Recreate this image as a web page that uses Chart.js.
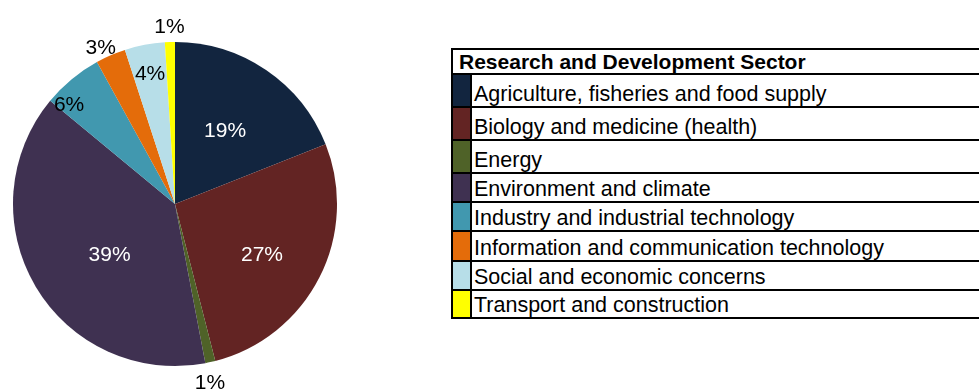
<!DOCTYPE html>
<html>
<head>
<meta charset="utf-8">
<script src="https://cdn.jsdelivr.net/npm/chart.js@4/dist/chart.umd.min.js"></script>
<style>
  html, body { margin: 0; padding: 0; background: #fff; overflow: hidden; }
  body { width: 979px; height: 392px; position: relative; font-family: "Liberation Sans", Arial, sans-serif; }
  #pieBox { position: absolute; left: 0; top: 0; width: 350px; height: 392px; }
  #legend { position: absolute; left: 451px; top: 48px; width: 620px; border: 2px solid #000; box-sizing: content-box; }
  #legend .hdr { height: 23px; font-weight: bold; font-size: 21px; padding-left: 6px; display: flex; align-items: center; color: #000; }
  #legend .row { display: flex; border-top: 2px solid #000; box-sizing: border-box; }
  #legend .sw { width: 17px; border-right: 2px solid #000; flex: none; }
  #legend .txt { font-size: 21.5px; line-height: 1.15; padding-left: 2px; display: flex; align-items: flex-end; padding-bottom: 0; margin-bottom: -1px; color: #000; white-space: nowrap; }
</style>
</head>
<body>
<div id="pieBox"><canvas id="pie"></canvas></div>
<div id="legend"></div>
<script>
// Share of funding by research and development sector (%)
const sectors = [
  "Agriculture, fisheries and food supply",
  "Biology and medicine (health)",
  "Energy",
  "Environment and climate",
  "Industry and industrial technology",
  "Information and communication technology",
  "Social and economic concerns",
  "Transport and construction"
];
const shares = [19, 27, 1, 39, 6, 3, 4, 1];
const legendTitle = "Research and Development Sector";

// Slice fills, in sector order
const sliceColors = ["#12253F", "#632423", "#4F6228", "#3F3151", "#4198AF", "#E46C0A", "#B7DEE8", "#FFFF00"];
// Percent label colour, distance from the centre (fraction of the radius)
// and angular nudge from the slice bisector (degrees)
const labelColors = ["#fff", "#fff", "#000", "#fff", "#000", "#000", "#000", "#000"];
const labelRadius = [0.55, 0.62, 1.12, 0.51, 0.9, 1.07, 0.82, 1.10];
const labelNudge = [0, 3, 1.5, -7, -7, -2, 0, 0];
// Legend row heights
const rowHeights = [33, 33, 33, 29, 29, 30, 29, 28];

const pctLabels = {
  id: "pctLabels",
  afterDatasetsDraw(chart) {
    const ctx = chart.ctx;
    const meta = chart.getDatasetMeta(0);
    ctx.save();
    ctx.font = '21px "Liberation Sans", Arial, sans-serif';
    ctx.textAlign = "center";
    ctx.textBaseline = "middle";
    meta.data.forEach((arc, i) => {
      const p = arc.getProps(["x", "y", "startAngle", "endAngle", "outerRadius"], true);
      const mid = (p.startAngle + p.endAngle) / 2 + labelNudge[i] * Math.PI / 180;
      const r = p.outerRadius * labelRadius[i];
      ctx.fillStyle = labelColors[i];
      ctx.fillText(shares[i] + "%", p.x + Math.cos(mid) * r, p.y + Math.sin(mid) * r + 1);
    });
    ctx.restore();
  }
};

new Chart(document.getElementById("pie"), {
  type: "pie",
  data: {
    labels: sectors,
    datasets: [{
      data: shares,
      backgroundColor: sliceColors,
      borderWidth: 0
    }]
  },
  options: {
    responsive: true,
    maintainAspectRatio: false,
    animation: false,
    layout: { padding: { left: 12, right: 12, top: 42, bottom: 26 } },
    plugins: { legend: { display: false }, tooltip: { enabled: false } }
  },
  plugins: [pctLabels]
});

// Legend table built from the same sector list and colours
const legend = document.getElementById("legend");
const hdr = document.createElement("div");
hdr.className = "hdr";
hdr.textContent = legendTitle;
legend.appendChild(hdr);
sectors.forEach((name, i) => {
  const row = document.createElement("div");
  row.className = "row";
  row.style.height = rowHeights[i] + "px";
  const sw = document.createElement("div");
  sw.className = "sw";
  sw.style.background = sliceColors[i];
  const txt = document.createElement("div");
  txt.className = "txt";
  txt.textContent = name;
  row.appendChild(sw);
  row.appendChild(txt);
  legend.appendChild(row);
});
</script>
</body>
</html>
